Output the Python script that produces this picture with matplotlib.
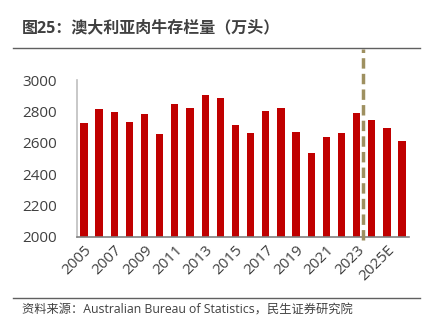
import matplotlib
matplotlib.use("Agg")
import matplotlib.pyplot as plt

plt.rcParams['font.family'] = ['Open Sans', 'Noto Sans CJK SC', 'DejaVu Sans']

years = [str(y) for y in range(2005, 2024)] + ["2024E", "2025E", "2026E"]
values = [2728, 2815, 2794, 2733, 2786, 2657, 2849, 2824, 2903, 2885,
          2716, 2663, 2801, 2820, 2669, 2538, 2640, 2663, 2788, 2748, 2693, 2612]
tick_labels = ["2005", "2007", "2009", "2011", "2013", "2015", "2017", "2019", "2021", "2023", "2025E"]
tick_idx = [0, 2, 4, 6, 8, 10, 12, 14, 16, 18, 20]
divider_after = 18  # 2023

fig = plt.figure(figsize=(4.36, 3.29), dpi=100)
W, H = 436, 329
ax = fig.add_axes([77 / W, 1 - 237 / H, (409 - 77) / W, (237 - 80) / H])

x = list(range(len(values)))
ax.bar(x, values, width=0.48, color='#C00000', zorder=2)
ax.set_ylim(2000, 3000)
ax.set_xlim(-0.46, len(values) - 0.54)
ax.set_yticks([2000, 2200, 2400, 2600, 2800, 3000])
ax.set_xticks(tick_idx)
ax.set_xticklabels(tick_labels, rotation=45, ha='right', rotation_mode='anchor')
ax.tick_params(axis='both', length=0, labelsize=11, colors='#404040')
ax.tick_params(axis='y', pad=14.5)
ax.tick_params(axis='x', pad=4)
for s in ['top', 'right']:
    ax.spines[s].set_visible(False)
ax.spines['left'].set_color('#BFBFBF')
ax.spines['left'].set_linewidth(1.2)
ax.spines['bottom'].set_color('#808080')
ax.spines['bottom'].set_linewidth(1.2)

# divider line (not data)
ax.plot([divider_after + 0.44] * 2, [1980, 3200], linestyle=(0, (3, 1.5)),
        color='#9E9060', linewidth=2.5, clip_on=False, zorder=3)

fig.text(22 / W, 1 - 28 / H, "图25：澳大利亚肉牛存栏量（万头）", fontsize=11.5,
         fontweight='bold', color='#404040', va='center', ha='left')
fig.add_artist(plt.Line2D([13 / W, 420 / W], [1 - 48 / H, 1 - 48 / H], color='#606060', linewidth=1))
fig.add_artist(plt.Line2D([13 / W, 420 / W], [1 - 298 / H, 1 - 298 / H], color='#606060', linewidth=1))
fig.text(22 / W, 1 - 310 / H, "资料来源：Australian Bureau of Statistics，民生证券研究院", fontsize=8.8,
         color='#404040', va='center', ha='left')

fig.savefig("out.png", dpi=100)
